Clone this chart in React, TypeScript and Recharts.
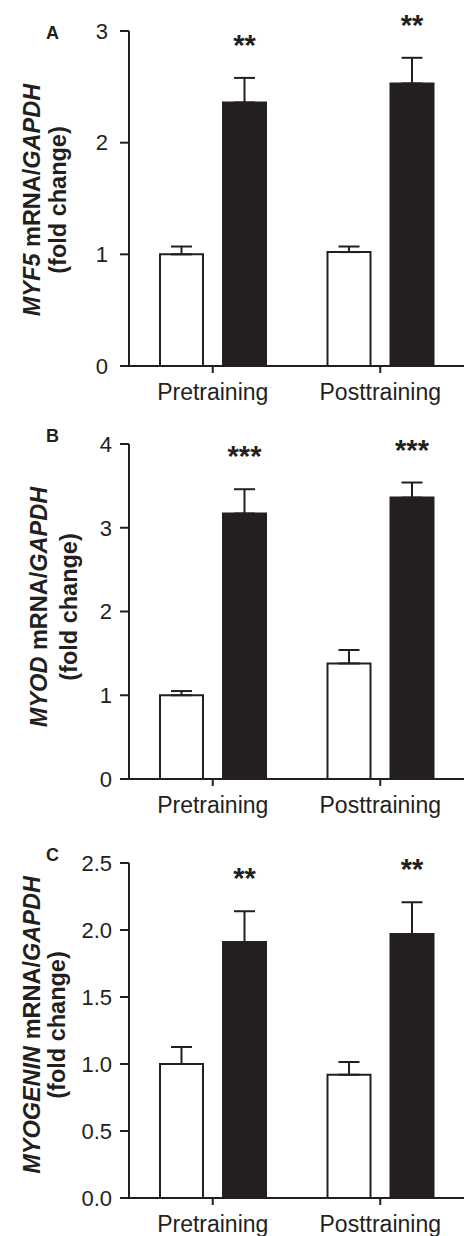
import { BarChart, Bar, XAxis, YAxis, ErrorBar, LabelList } from 'recharts';

const INK = '#231f20';
const FONT = '"Liberation Sans", Arial, Helvetica, sans-serif';

const CATEGORIES = ['Pretraining', 'Posttraining'];

// panel A - MYF5
const MYF5_CONTROL = [1.0, 1.02];
const MYF5_CONTROL_SEM = [0.07, 0.05];
const MYF5_TREATED = [2.36, 2.53];
const MYF5_TREATED_SEM = [0.22, 0.23];
const MYF5_STARS = ['**', '**'];
const MYF5_TICKS = [0, 1, 2, 3];

// panel B - MYOD
const MYOD_CONTROL = [1.0, 1.38];
const MYOD_CONTROL_SEM = [0.05, 0.16];
const MYOD_TREATED = [3.17, 3.36];
const MYOD_TREATED_SEM = [0.29, 0.18];
const MYOD_STARS = ['***', '***'];
const MYOD_TICKS = [0, 1, 2, 3, 4];

// panel C - MYOGENIN
const MYOGENIN_CONTROL = [1.0, 0.92];
const MYOGENIN_CONTROL_SEM = [0.127, 0.095];
const MYOGENIN_TREATED = [1.91, 1.97];
const MYOGENIN_TREATED_SEM = [0.23, 0.237];
const MYOGENIN_STARS = ['**', '**'];
const MYOGENIN_TICKS = [0, 0.5, 1.0, 1.5, 2.0, 2.5];

interface PanelProps {
  letter: string;
  gene: string;
  control: number[];
  controlSem: number[];
  treated: number[];
  treatedSem: number[];
  stars: string[];
  ticks: number[];
  decimals: number;
  top: number;
  letterY: number;
  labelY: number;
  line1X: number;
  line2X: number;
  tickGap: number;
}

function Panel(p: PanelProps) {
  const data = CATEGORIES.map((name, i) => ({
    name,
    control: p.control[i],
    controlErr: [0, p.controlSem[i]],
    treated: p.treated[i],
    treatedErr: [0, p.treatedSem[i]],
    stars: p.stars[i],
  }));
  const max = p.ticks[p.ticks.length - 1];

  const yLabel = () => (
    <g fontFamily={FONT} fill={INK} fontWeight="bold">
      <text x={46} y={p.letterY} fontSize={18} fontWeight="bold">{p.letter}</text>
      <text
        x={p.line1X}
        y={p.labelY}
        fontSize={23.5}
        textAnchor="middle"
        transform={`rotate(-90, ${p.line1X}, ${p.labelY})`}
      >
        <tspan fontStyle="italic">{p.gene}</tspan>
        <tspan> mRNA/</tspan>
        <tspan fontStyle="italic">GAPDH</tspan>
      </text>
      <text
        x={p.line2X}
        y={p.labelY}
        fontSize={23.5}
        textAnchor="middle"
        transform={`rotate(-90, ${p.line2X}, ${p.labelY})`}
      >
        (fold change)
      </text>
    </g>
  );

  const starLabel = (props: any) => {
    const vb = props.viewBox || props;
    const i = props.index ?? 0;
    const errTop = vb.y - (p.treatedSem[i] * vb.height) / p.treated[i];
    return (
      <text
        x={vb.x + vb.width / 2}
        y={errTop - 23}
        textAnchor="middle"
        fontSize={29}
        fontWeight="bold"
        fontFamily={FONT}
        fill={INK}
      >
        {props.value}
      </text>
    );
  };

  return (
    <div style={{ position: 'absolute', left: 0, top: p.top }}>
      <BarChart
        width={464}
        height={406}
        data={data}
        margin={{ top: 31, right: 0, left: 0, bottom: 0 }}
        barCategoryGap={31}
        barGap={20}
      >
        <XAxis
          dataKey="name"
          height={40}
          interval={0}
          tickSize={7}
          tickMargin={11}
          axisLine={{ stroke: INK, strokeWidth: 2 }}
          tickLine={{ stroke: INK, strokeWidth: 2 }}
          tick={{ fill: INK, fontSize: 23, fontFamily: FONT }}
        />
        <YAxis
          type="number"
          width={129}
          domain={[0, max]}
          ticks={p.ticks}
          interval={0}
          tickSize={9}
          tickMargin={p.tickGap}
          tickFormatter={(v) => v.toFixed(p.decimals)}
          axisLine={{ stroke: INK, strokeWidth: 2 }}
          tickLine={{ stroke: INK, strokeWidth: 2 }}
          tick={{ fill: INK, fontSize: 22, fontFamily: FONT }}
          label={yLabel}
        />
        <Bar dataKey="control" fill="#ffffff" stroke={INK} strokeWidth={2} isAnimationActive={false}>
          <ErrorBar dataKey="controlErr" direction="y" width={10.5} stroke={INK} strokeWidth={2} />
        </Bar>
        <Bar dataKey="treated" fill={INK} stroke={INK} strokeWidth={2} isAnimationActive={false}>
          <ErrorBar dataKey="treatedErr" direction="y" width={10.5} stroke={INK} strokeWidth={2} />
          <LabelList dataKey="stars" content={starLabel} />
        </Bar>
      </BarChart>
    </div>
  );
}

export default function App() {
  return (
    <div
      style={{
        position: 'absolute',
        left: 0,
        top: 0,
        width: 464,
        height: 1236,
        overflow: 'hidden',
        background: '#fff',
      }}
    >
      <Panel
        letter="A"
        gene="MYF5"
        control={MYF5_CONTROL}
        controlSem={MYF5_CONTROL_SEM}
        treated={MYF5_TREATED}
        treatedSem={MYF5_TREATED_SEM}
        stars={MYF5_STARS}
        ticks={MYF5_TICKS}
        decimals={0}
        top={0}
        letterY={39}
        labelY={200}
        line1X={40}
        line2X={66}
        tickGap={12}
      />
      <Panel
        letter="B"
        gene="MYOD"
        control={MYOD_CONTROL}
        controlSem={MYOD_CONTROL_SEM}
        treated={MYOD_TREATED}
        treatedSem={MYOD_TREATED_SEM}
        stars={MYOD_STARS}
        ticks={MYOD_TICKS}
        decimals={0}
        top={413}
        letterY={29}
        labelY={194}
        line1X={47}
        line2X={77}
        tickGap={8}
      />
      <Panel
        letter="C"
        gene="MYOGENIN"
        control={MYOGENIN_CONTROL}
        controlSem={MYOGENIN_CONTROL_SEM}
        treated={MYOGENIN_TREATED}
        treatedSem={MYOGENIN_TREATED_SEM}
        stars={MYOGENIN_STARS}
        ticks={MYOGENIN_TICKS}
        decimals={1}
        top={832}
        letterY={29}
        labelY={193}
        line1X={40}
        line2X={65}
        tickGap={8}
      />
    </div>
  );
}
